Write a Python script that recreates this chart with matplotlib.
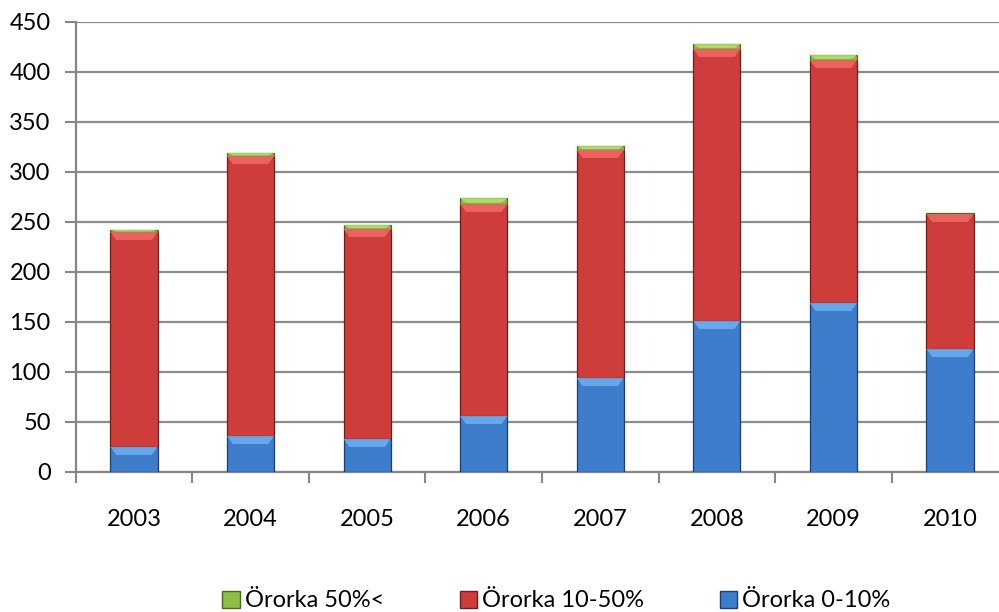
import numpy as np
import matplotlib as mpl
mpl.use('Agg')
import matplotlib.pyplot as plt
from matplotlib.patches import Patch, Polygon

years = ['2003', '2004', '2005', '2006', '2007', '2008', '2009', '2010']
ororka_0_10 = [25, 36, 33, 56, 94, 151, 169, 123]
ororka_10_50 = [215, 280, 210, 212, 228, 272, 243, 135]
ororka_50 = [2, 3, 4, 6, 4, 5, 5, 1]

labels = ['Örorka 50%<', 'Örorka 10-50%', 'Örorka 0-10%']
colors = {'blue': '#3d7dcc', 'red': '#cf3d3a', 'green': '#8dbd44'}
lights = {'blue': '#6fb0f0', 'red': '#f06a66', 'green': '#b6e070'}
edges = {'blue': '#1d3f6e', 'red': '#6e1d1c', 'green': '#4a6b1d'}

plt.rcParams['font.family'] = ['Lato', 'DejaVu Sans']

fig = plt.figure(figsize=(9.99, 6.12), dpi=100)
ax = fig.add_axes([0.0758, 0.2288, 0.9335, 0.7353])

x = np.arange(len(years))
w = 0.405
b1 = np.array(ororka_0_10)
b2 = b1 + np.array(ororka_10_50)


def stack(vals, bottom, key):
    ax.bar(x, vals, w, bottom=bottom, color=colors[key], edgecolor=edges[key],
           linewidth=0.9, zorder=3)
    # bevel highlight at top of each segment
    for xi, v, b in zip(x, vals, bottom):
        h = min(8, v * 0.8)
        if h < 1.5:
            continue
        top = b + v
        dx = w / 2 * 0.75
        pts = [(xi - w / 2, top), (xi + w / 2, top),
               (xi + dx, top - h), (xi - dx, top - h)]
        ax.add_patch(Polygon(pts, closed=True, facecolor=lights[key],
                             edgecolor='none', alpha=0.85, zorder=4))


stack(ororka_0_10, np.zeros(len(years)), 'blue')
stack(ororka_10_50, b1, 'red')
stack(ororka_50, b2, 'green')

ax.set_xlim(-0.5, 7.5)
ax.set_ylim(0, 450)
ax.set_yticks(np.arange(0, 451, 50))
ax.set_xticks(np.arange(-0.5, 8, 1), minor=False)
ax.set_xticklabels([])
ax.set_xticks(x, minor=True)
ax.set_xticklabels(years, minor=True)
ax.tick_params(axis='x', which='minor', length=0, pad=27, labelsize=17)
ax.tick_params(axis='x', which='major', length=8, color='#868686', width=1.5)
ax.tick_params(axis='y', length=8, color='#868686', width=1.5, labelsize=17, pad=10)

ax.grid(axis='y', color='#8c8c8c', linewidth=1.6, zorder=0)
ax.set_axisbelow(True)
for s in ['top', 'right']:
    ax.spines[s].set_visible(False)
for s in ['left', 'bottom']:
    ax.spines[s].set_color('#868686')
    ax.spines[s].set_linewidth(1.6)

handles = [Patch(facecolor=colors['green'], edgecolor=edges['green']),
           Patch(facecolor=colors['red'], edgecolor=edges['red']),
           Patch(facecolor=colors['blue'], edgecolor=edges['blue'])]
fig.legend(handles, labels, loc='center', bbox_to_anchor=(0.557, 0.018), ncol=3,
           frameon=False, fontsize=17, handlelength=0.75, handleheight=0.75,
           handletextpad=0.2, columnspacing=3.2)

plt.savefig('out.png', dpi=100)
